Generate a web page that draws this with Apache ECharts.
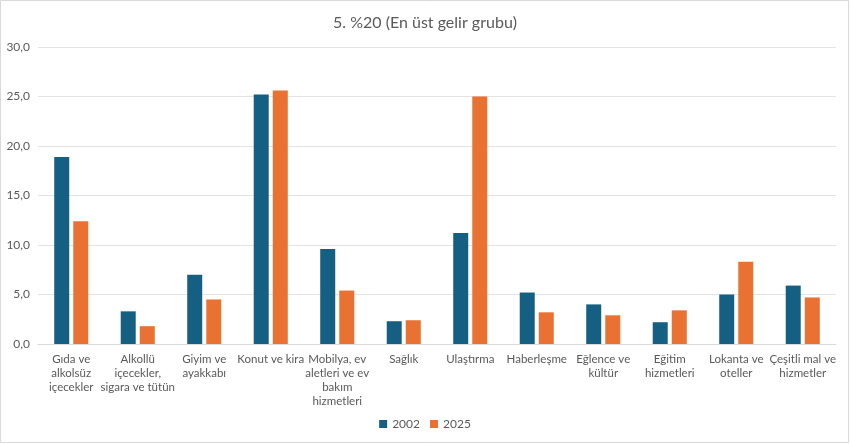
<!DOCTYPE html>
<html>
<head>
<meta charset="utf-8">
<script src="https://cdn.jsdelivr.net/npm/echarts@6/dist/echarts.min.js"></script>
<style>
  html, body { margin: 0; padding: 0; background: #fff; }
  #chart { width: 850px; height: 444px; }
</style>
</head>
<body>
<div id="chart"></div>
<script>
const categories = [
  "Gıda ve\nalkolsüz\niçecekler",
  "Alkollü\niçecekler,\nsigara ve tütün",
  "Giyim ve\nayakkabı",
  "Konut ve kira",
  "Mobilya, ev\naletleri ve ev\nbakım\nhizmetleri",
  "Sağlık",
  "Ulaştırma",
  "Haberleşme",
  "Eğlence ve\nkültür",
  "Eğitim\nhizmetleri",
  "Lokanta ve\noteller",
  "Çeşitli mal ve\nhizmetler"
];
const values2002 = [18.9, 3.3, 7.0, 25.2, 9.6, 2.3, 11.2, 5.2, 4.0, 2.2, 5.0, 5.9];
const values2025 = [12.4, 1.8, 4.5, 25.6, 5.4, 2.4, 25.0, 3.2, 2.9, 3.4, 8.3, 4.7];

const textColor = "#595959";
const font = "Lato, sans-serif";

const chart = echarts.init(document.getElementById("chart"));
chart.setOption({
  animation: false,
  backgroundColor: "#ffffff",
  textStyle: { fontFamily: font },
  title: {
    text: "5. %20 (En üst gelir grubu)",
    left: "center",
    top: 10,
    textStyle: { color: textColor, fontSize: 16, fontWeight: "normal", fontFamily: font }
  },
  legend: {
    bottom: 9,
    left: "center",
    itemWidth: 8,
    itemHeight: 8,
    itemGap: 10,
    icon: "rect",
    textStyle: { color: textColor, fontSize: 12, fontFamily: font },
    data: ["2002", "2025"]
  },
  grid: { left: 38, right: 14, top: 47, bottom: 100 },
  xAxis: {
    type: "category",
    data: categories,
    axisLine: { lineStyle: { color: "#d9d9d9" } },
    axisTick: { show: false },
    axisLabel: {
      color: textColor,
      fontSize: 11.5,
      lineHeight: 14,
      margin: 8,
      interval: 0,
      fontFamily: font
    }
  },
  yAxis: {
    type: "value",
    min: 0,
    max: 30,
    interval: 5,
    axisLine: { show: false },
    axisTick: { show: false },
    splitLine: { lineStyle: { color: "#e3e3e3" } },
    axisLabel: {
      color: textColor,
      fontSize: 12,
      margin: 8,
      fontFamily: font,
      formatter: (v) => v.toFixed(1).replace(".", ",")
    }
  },
  series: [
    {
      name: "2002",
      type: "bar",
      data: values2002,
      barWidth: 15,
      barGap: "27%",
      itemStyle: { color: "#156082" }
    },
    {
      name: "2025",
      type: "bar",
      data: values2025,
      barWidth: 15,
      itemStyle: { color: "#e97132" }
    }
  ],
  graphic: [
    {
      type: "rect",
      shape: { x: 0.5, y: 0.5, width: 848, height: 442 },
      style: { fill: "none", stroke: "#d9d9d9", lineWidth: 1 },
      silent: true
    }
  ]
});
</script>
</body>
</html>
